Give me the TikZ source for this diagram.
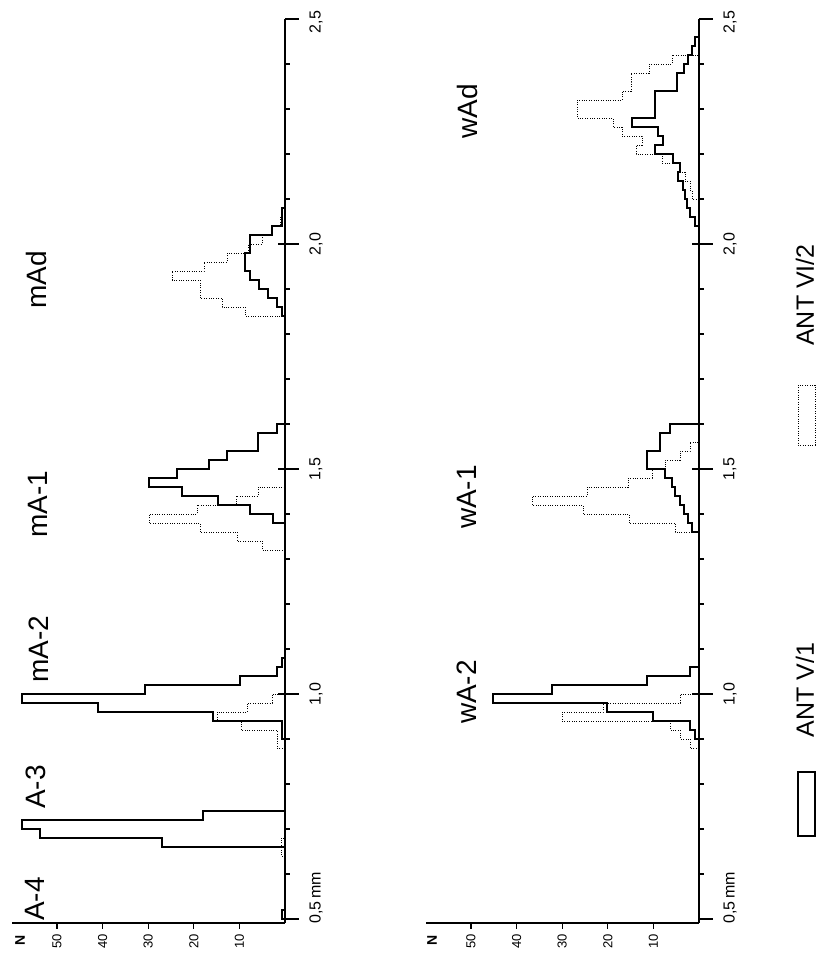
\documentclass[tikz,border=0pt]{standalone}
\usepackage{fontspec}
\setmainfont{Liberation Sans}
\newcommand{\histo}[5]{%
  \draw[#1] (#2,{919-9*(#3)}) \foreach \hv [count=\hi from 0] in {#5} { -- (\hv,{919-9*(#3+\hi)}) -- (\hv,{919-9*(#3+\hi+1)}) } -- (#2,{919-9*(#4)});
}
\begin{document}
\begin{tikzpicture}[x=1pt,y=-1pt]
\tikzset{
 solidh/.style={line width=1.7pt, line join=miter},
 dotth/.style={line width=0.9pt, dash pattern=on 0.9pt off 1.5pt},
 axisln/.style={line width=1.2pt},
 tickln/.style={line width=1.1pt},
 grplabel/.style={rotate=90, font=\fontsize{28}{30}\selectfont, inner sep=0pt},
 axlabel/.style={rotate=90, font=\fontsize{16}{18}\selectfont, inner sep=0pt},
 nlabel/.style={rotate=90, font=\fontsize{13}{15}\selectfont, inner sep=0pt},
 leglabel/.style={rotate=90, font=\fontsize{25}{27}\selectfont, inner sep=0pt},
 legbox/.style={line width=1.3pt},
}
\fill[white] (0,0) rectangle (822,961);
\useasboundingbox (0,0) rectangle (822,961);

% ---------- axes ----------
\foreach \xo/\nx in {285/20, 699/432} {
  \draw[axisln] (\xo,923) -- (\xo,19);
  \draw[axisln] ({\xo-273},923) -- (\xo,923);
  \foreach \j in {0,...,20} \draw[tickln] (\xo,{919-45*\j}) -- ({\xo+5},{919-45*\j});
  \foreach \j in {0,5,10,15,20} \draw[tickln] (\xo,{919-45*\j}) -- ({\xo+14},{919-45*\j});
  \foreach \j in {5,10,15} \draw[tickln] ({\xo-7},{919-45*\j}) -- (\xo,{919-45*\j});
  \foreach \m in {1,...,5} {
    \draw[tickln] ({\xo-45.6*\m},923) -- ({\xo-45.6*\m},929);
    \node[nlabel] (nl-\xo-\m) at ({\xo-45.6*\m},941) {\m0};
  }
  \node[nlabel, font=\fontsize{14}{16}\selectfont\bfseries] (nN-\xo) at (\nx,940) {N};
  \node[axlabel, anchor=west] (s05-\xo) at ({\xo+31},924) {0,5\,mm};
  \node[axlabel] (s10-\xo) at ({\xo+31},694) {1,0};
  \node[axlabel] (s15-\xo) at ({\xo+31},469) {1,5};
  \node[axlabel] (s20-\xo) at ({\xo+31},244) {2,0};
  \node[axlabel] (s25-\xo) at ({\xo+31},22) {2,5};
}

% ---------- left panel (baseline 285) ----------
\histo{dotth}{285}{7}{9}{281,281}
\histo{dotth}{285}{19}{25}{277,277,241,217,247,272}
\histo{dotth}{285}{41}{48}{262,237,200,149,197,236,258}
\histo{dotth}{285}{67}{78}{245,222,200,200,172,204,227,248,262,272,280}

\histo{solidh}{285}{0}{1}{282}
\histo{solidh}{285}{8}{12}{162,40,22,203}
\histo{solidh}{285}{20}{29}{282,282,213,98,22,145,240,277,282}
\histo{solidh}{285}{44}{55}{273,250,218,182,149,177,209,227,258,258,277}
\histo{solidh}{285}{67}{79}{282,277,268,259,250,245,245,250,250,272,282,282}

% ---------- right panel (baseline 699) ----------
\histo{dotth}{699}{19}{25}{690,680,670,562,603,680}
\histo{dotth}{699}{43}{53}{675,629,583,532,587,628,652,665,680,690}
\histo{dotth}{699}{80}{96}{692,690,685,680,662,636,642,622,613,577,577,622,631,631,649,672}

\histo{solidh}{699}{20}{28}{695,690,653,607,493,552,647,690}
\histo{solidh}{699}{43}{55}{692,688,684,680,675,672,665,647,647,660,660,670}
\histo{solidh}{699}{77}{98}{695,690,687,685,683,678,680,673,655,663,658,632,655,655,655,677,677,684,688,692,695}

% ---------- group labels ----------
\node[grplabel] (g-mAd) at (36,280) {mAd};
\node[grplabel] (g-mA1) at (38,504) {mA-1};
\node[grplabel] (g-mA2) at (39,649) {mA-2};
\node[grplabel] (g-A3) at (36,787) {A-3};
\node[grplabel] (g-A4) at (35,899) {A-4};
\node[grplabel] (g-wAd) at (467,111) {wAd};
\node[grplabel] (g-wA1) at (467,497) {wA-1};
\node[grplabel] (g-wA2) at (467,692) {wA-2};

% ---------- legend ----------
\draw[dotth] (798,385) rectangle (815,445);
\node[leglabel] (leg-vi) at (805,295) {ANT VI/2};
\draw[legbox] (798,772) rectangle (815,836);
\node[leglabel] (leg-v) at (805,690) {ANT V/1};
\end{tikzpicture}
\end{document}
